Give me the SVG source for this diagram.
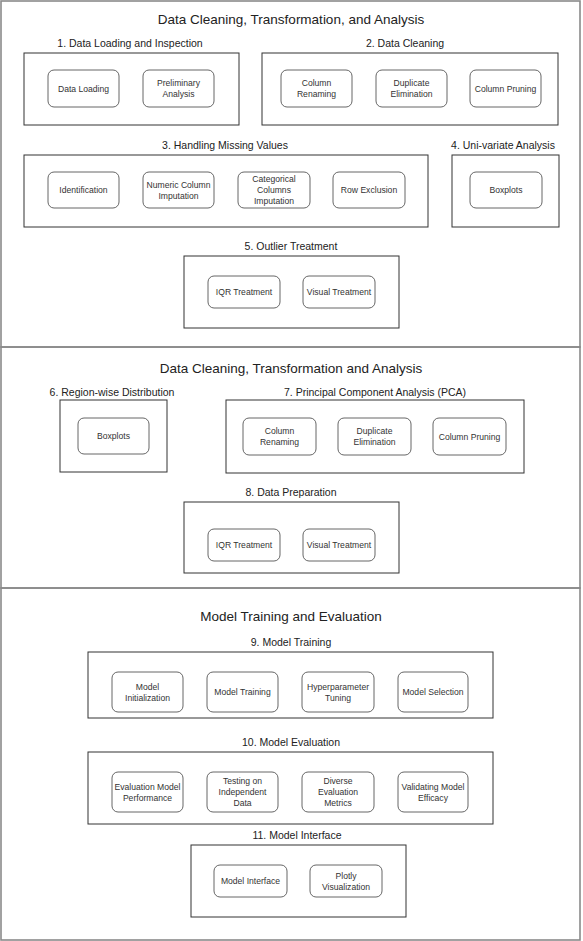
<svg xmlns="http://www.w3.org/2000/svg" width="583" height="941" viewBox="0 0 583 941">
<style>
.bg{fill:#ffffff}
.sec{fill:none;stroke:#8a8a8a;stroke-width:1.6}
.grp{fill:none;stroke:#333333;stroke-width:1}
.nd{fill:#ffffff;stroke:#555555;stroke-width:0.9}
text{font-family:"Liberation Sans",Arial,sans-serif;fill:#222222;text-anchor:middle}
.title{font-size:13.5px}
.lbl{font-size:10.5px}
.nt{font-size:8.6px;fill:#333333}
</style>
<rect class="bg" x="0" y="0" width="583" height="941"/>
<g id="sections">
<rect class="sec" x="1" y="1" width="579" height="346"/>
<rect class="sec" x="1" y="347" width="579" height="241"/>
<rect class="sec" x="1" y="588" width="579" height="352"/>
<text class="title" x="291" y="24">Data Cleaning, Transformation, and Analysis</text>
<text class="title" x="291" y="373">Data Cleaning, Transformation and Analysis</text>
<text class="title" x="291" y="621">Model Training and Evaluation</text>
</g>
<g id="connectors"></g>

<g id="group1">
<text class="lbl" x="130" y="47">1. Data Loading and Inspection</text>
<rect class="grp" x="24" y="53" width="215" height="72"/>
</g>
<g id="node-data-loading"><rect class="nd" x="48" y="70" width="71" height="37" rx="6"/><text class="nt" x="83.5" y="91.5">Data Loading</text></g>
<g id="node-preliminary-analysis"><rect class="nd" x="143" y="70" width="71" height="37" rx="6"/><text class="nt" x="178.5" y="86">Preliminary</text><text class="nt" x="178.5" y="97">Analysis</text></g>

<g id="group2">
<text class="lbl" x="405" y="47">2. Data Cleaning</text>
<rect class="grp" x="262" y="53" width="296" height="72"/>
</g>
<g id="node-column-renaming-1"><rect class="nd" x="281" y="70" width="71" height="37" rx="6"/><text class="nt" x="316.5" y="86">Column</text><text class="nt" x="316.5" y="97">Renaming</text></g>
<g id="node-duplicate-elimination-1"><rect class="nd" x="376" y="70" width="71" height="37" rx="6"/><text class="nt" x="411.5" y="86">Duplicate</text><text class="nt" x="411.5" y="97">Elimination</text></g>
<g id="node-column-pruning-1"><rect class="nd" x="470" y="70" width="71" height="37" rx="6"/><text class="nt" x="505.5" y="91.5">Column Pruning</text></g>

<g id="group3">
<text class="lbl" x="225" y="149">3. Handling Missing Values</text>
<rect class="grp" x="24" y="155" width="404" height="72"/>
</g>
<g id="node-identification"><rect class="nd" x="48" y="172" width="71" height="36" rx="6"/><text class="nt" x="83.5" y="193">Identification</text></g>
<g id="node-numeric-imputation"><rect class="nd" x="143" y="172" width="71" height="36" rx="6"/><text class="nt" x="178.5" y="187.5">Numeric Column</text><text class="nt" x="178.5" y="198.5">Imputation</text></g>
<g id="node-categorical-imputation"><rect class="nd" x="238" y="172" width="72" height="36" rx="6"/><text class="nt" x="274" y="182">Categorical</text><text class="nt" x="274" y="193">Columns</text><text class="nt" x="274" y="204">Imputation</text></g>
<g id="node-row-exclusion"><rect class="nd" x="333" y="172" width="72" height="36" rx="6"/><text class="nt" x="369" y="193">Row Exclusion</text></g>

<g id="group4">
<text class="lbl" x="503" y="149">4. Uni-variate Analysis</text>
<rect class="grp" x="452" y="155" width="107" height="72"/>
</g>
<g id="node-boxplots-1"><rect class="nd" x="470" y="172" width="72" height="36" rx="6"/><text class="nt" x="506" y="193">Boxplots</text></g>

<g id="group5">
<text class="lbl" x="291" y="250">5. Outlier Treatment</text>
<rect class="grp" x="184" y="256" width="215" height="72"/>
</g>
<g id="node-iqr-1"><rect class="nd" x="208" y="276" width="72" height="32" rx="6"/><text class="nt" x="244" y="295">IQR Treatment</text></g>
<g id="node-visual-1"><rect class="nd" x="303" y="276" width="72" height="32" rx="6"/><text class="nt" x="339" y="295">Visual Treatment</text></g>

<g id="group6">
<text class="lbl" x="112" y="396">6. Region-wise Distribution</text>
<rect class="grp" x="60" y="400" width="107" height="72"/>
</g>
<g id="node-boxplots-2"><rect class="nd" x="78" y="418" width="71" height="36" rx="6"/><text class="nt" x="113.5" y="439">Boxplots</text></g>

<g id="group7">
<text class="lbl" x="375" y="396">7. Principal Component Analysis (PCA)</text>
<rect class="grp" x="226" y="400" width="298" height="73"/>
</g>
<g id="node-column-renaming-2"><rect class="nd" x="243" y="418" width="73" height="37" rx="6"/><text class="nt" x="279.5" y="434">Column</text><text class="nt" x="279.5" y="445">Renaming</text></g>
<g id="node-duplicate-elimination-2"><rect class="nd" x="338" y="418" width="73" height="37" rx="6"/><text class="nt" x="374.5" y="434">Duplicate</text><text class="nt" x="374.5" y="445">Elimination</text></g>
<g id="node-column-pruning-2"><rect class="nd" x="433" y="418" width="73" height="37" rx="6"/><text class="nt" x="469.5" y="439.5">Column Pruning</text></g>

<g id="group8">
<text class="lbl" x="291" y="496">8. Data Preparation</text>
<rect class="grp" x="184" y="502" width="215" height="71"/>
</g>
<g id="node-iqr-2"><rect class="nd" x="208" y="529" width="72" height="32" rx="6"/><text class="nt" x="244" y="548">IQR Treatment</text></g>
<g id="node-visual-2"><rect class="nd" x="303" y="529" width="72" height="32" rx="6"/><text class="nt" x="339" y="548">Visual Treatment</text></g>

<g id="group9">
<text class="lbl" x="291" y="646">9. Model Training</text>
<rect class="grp" x="88" y="652" width="405" height="66"/>
</g>
<g id="node-model-init"><rect class="nd" x="112" y="672" width="71" height="40" rx="6"/><text class="nt" x="147.5" y="689.5">Model</text><text class="nt" x="147.5" y="700.5">Initialization</text></g>
<g id="node-model-training"><rect class="nd" x="207" y="672" width="71" height="40" rx="6"/><text class="nt" x="242.5" y="695">Model Training</text></g>
<g id="node-hyperparameter"><rect class="nd" x="302" y="672" width="72" height="40" rx="6"/><text class="nt" x="338" y="689.5">Hyperparameter</text><text class="nt" x="338" y="700.5">Tuning</text></g>
<g id="node-model-selection"><rect class="nd" x="398" y="672" width="70" height="40" rx="6"/><text class="nt" x="433" y="695">Model Selection</text></g>

<g id="group10">
<text class="lbl" x="291" y="746">10. Model Evaluation</text>
<rect class="grp" x="88" y="752" width="405" height="72"/>
</g>
<g id="node-eval-performance"><rect class="nd" x="112" y="772" width="71" height="40" rx="6"/><text class="nt" x="147.5" y="789.5">Evaluation Model</text><text class="nt" x="147.5" y="800.5">Performance</text></g>
<g id="node-testing"><rect class="nd" x="207" y="772" width="71" height="40" rx="6"/><text class="nt" x="242.5" y="784">Testing on</text><text class="nt" x="242.5" y="795">Independent</text><text class="nt" x="242.5" y="806">Data</text></g>
<g id="node-diverse-metrics"><rect class="nd" x="302" y="772" width="72" height="40" rx="6"/><text class="nt" x="338" y="784">Diverse</text><text class="nt" x="338" y="795">Evaluation</text><text class="nt" x="338" y="806">Metrics</text></g>
<g id="node-validating"><rect class="nd" x="398" y="772" width="70" height="40" rx="6"/><text class="nt" x="433" y="789.5">Validating Model</text><text class="nt" x="433" y="800.5">Efficacy</text></g>

<g id="group11">
<text class="lbl" x="297" y="839">11. Model Interface</text>
<rect class="grp" x="191" y="845" width="215" height="72"/>
</g>
<g id="node-model-interface"><rect class="nd" x="214" y="865" width="73" height="32" rx="6"/><text class="nt" x="250.5" y="884">Model Interface</text></g>
<g id="node-plotly"><rect class="nd" x="310" y="865" width="72" height="32" rx="6"/><text class="nt" x="346" y="878.5">Plotly</text><text class="nt" x="346" y="889.5">Visualization</text></g>
</svg>
